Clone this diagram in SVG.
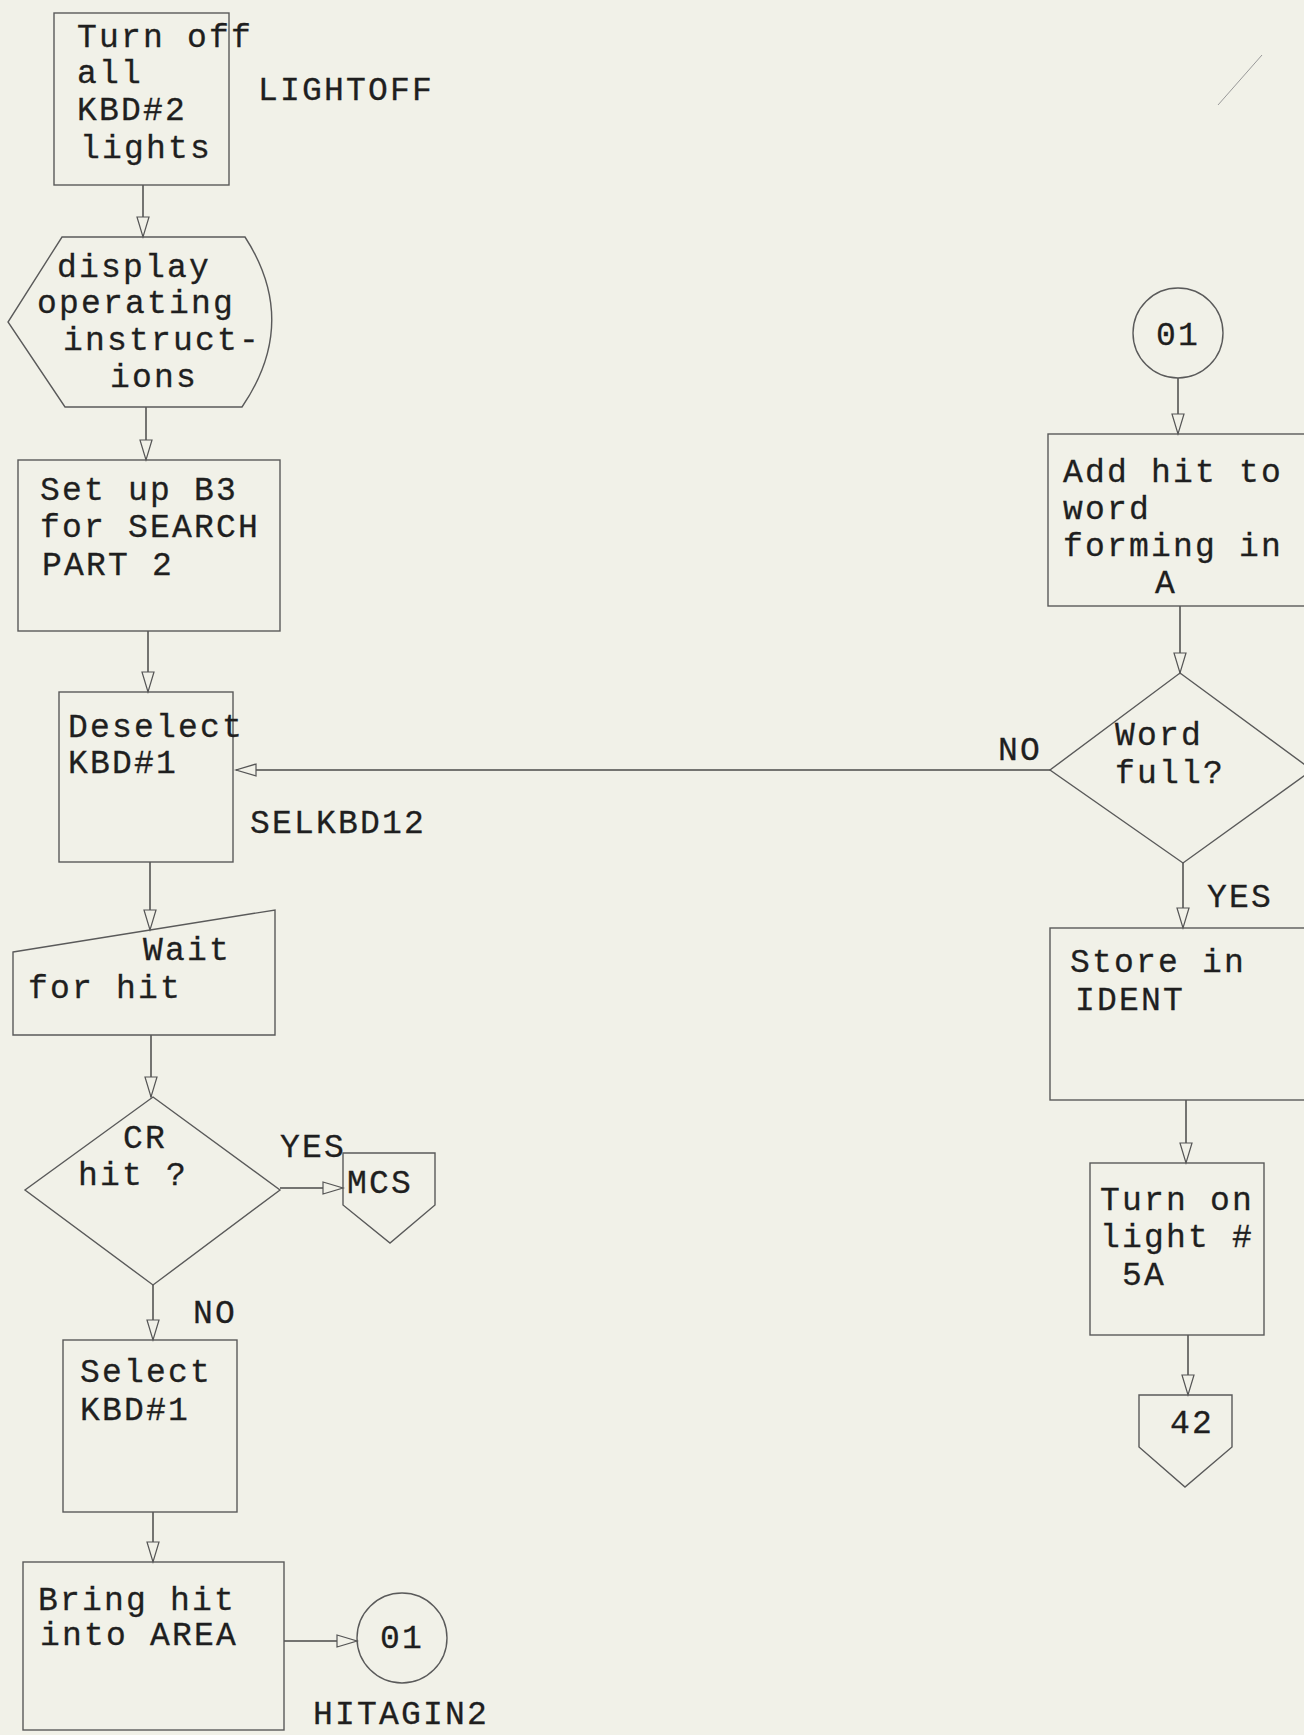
<svg xmlns="http://www.w3.org/2000/svg" width="1304" height="1735" viewBox="0 0 1304 1735">
<defs>
<style>
.t{font-family:"Liberation Mono","DejaVu Sans Mono",monospace;font-size:33px;letter-spacing:2.2px;fill:#1f1f1f;stroke:#1f1f1f;stroke-width:0.3}
.s{fill:none;stroke:#5a5a5a;stroke-width:1.4}
.c{fill:none;stroke:#4a4a4a;stroke-width:1.5}
</style>
<marker id="arr" markerUnits="userSpaceOnUse" markerWidth="24" markerHeight="16" refX="21" refY="7" orient="auto">
<path d="M1,1 L21,7 L1,13 Z" fill="#f1f1e8" stroke="#555" stroke-width="1.2"/>
</marker>
</defs>
<rect x="0" y="0" width="1304" height="1735" fill="#f1f1e8"/>

<g id="connectors">
<path class="c" d="M143,185 V237" marker-end="url(#arr)"/>
<path class="c" d="M146,407 V460" marker-end="url(#arr)"/>
<path class="c" d="M148,631 V692" marker-end="url(#arr)"/>
<path class="c" d="M150,862 V930" marker-end="url(#arr)"/>
<path class="c" d="M151,1035 V1097" marker-end="url(#arr)"/>
<path class="c" d="M280,1188 H343" marker-end="url(#arr)"/>
<path class="c" d="M153,1285 V1340" marker-end="url(#arr)"/>
<path class="c" d="M153,1512 V1562" marker-end="url(#arr)"/>
<path class="c" d="M284,1641 H357" marker-end="url(#arr)"/>
<path class="c" d="M1178,378 V434" marker-end="url(#arr)"/>
<path class="c" d="M1180,606 V673" marker-end="url(#arr)"/>
<path class="c" d="M1050,770 H236" marker-end="url(#arr)"/>
<path class="c" d="M1183,863 V928" marker-end="url(#arr)"/>
<path class="c" d="M1186,1100 V1163" marker-end="url(#arr)"/>
<path class="c" d="M1188,1335 V1395" marker-end="url(#arr)"/>
<text class="t" x="280" y="1157">YES</text>
<text class="t" x="193" y="1323">NO</text>
<text class="t" x="998" y="760">NO</text>
<text class="t" x="1207" y="907">YES</text>
</g>

<g id="lightoff">
<rect class="s" x="54" y="13" width="175" height="172"/>
<text class="t" x="77" y="47">Turn off</text>
<text class="t" x="77" y="83">all</text>
<text class="t" x="77" y="120">KBD#2</text>
<text class="t" x="80" y="158">lights</text>
<text class="t" x="258" y="100">LIGHTOFF</text>
</g>

<g id="display">
<path class="s" d="M62,237 H245 Q300,322 242,407 H65 L8,322 Z"/>
<text class="t" x="57" y="277">display</text>
<text class="t" x="37" y="313">operating</text>
<text class="t" x="63" y="350">instruct-</text>
<text class="t" x="110" y="387">ions</text>
</g>

<g id="setup">
<rect class="s" x="18" y="460" width="262" height="171"/>
<text class="t" x="40" y="500">Set up B3</text>
<text class="t" x="40" y="537">for SEARCH</text>
<text class="t" x="42" y="575">PART 2</text>
</g>

<g id="deselect">
<rect class="s" x="59" y="692" width="174" height="170"/>
<text class="t" x="68" y="737">Deselect</text>
<text class="t" x="68" y="773">KBD#1</text>
<text class="t" x="250" y="833">SELKBD12</text>
</g>

<g id="wait">
<path class="s" d="M13,952 L275,910 V1035 H13 Z"/>
<text class="t" x="143" y="960">Wait</text>
<text class="t" x="28" y="998">for hit</text>
</g>

<g id="crhit">
<path class="s" d="M153,1097 L280,1190 L153,1285 L25,1190 Z"/>
<text class="t" x="123" y="1148">CR</text>
<text class="t" x="78" y="1185">hit ?</text>
</g>

<g id="mcs">
<path class="s" d="M343,1153 H435 V1205 L390,1243 L343,1205 Z"/>
<text class="t" x="347" y="1193">MCS</text>
</g>

<g id="select">
<rect class="s" x="63" y="1340" width="174" height="172"/>
<text class="t" x="80" y="1382">Select</text>
<text class="t" x="80" y="1420">KBD#1</text>
</g>

<g id="bring">
<rect class="s" x="23" y="1562" width="261" height="168"/>
<text class="t" x="38" y="1610">Bring hit</text>
<text class="t" x="40" y="1645">into AREA</text>
<text class="t" x="313" y="1724">HITAGIN2</text>
</g>

<g id="conn01a">
<circle class="s" cx="402" cy="1638" r="45"/>
<text class="t" x="402" y="1648" text-anchor="middle">01</text>
</g>

<g id="conn01b">
<circle class="s" cx="1178" cy="333" r="45"/>
<text class="t" x="1178" y="345" text-anchor="middle">01</text>
</g>

<g id="addhit">
<rect class="s" x="1048" y="434" width="270" height="172"/>
<text class="t" x="1063" y="482">Add hit to</text>
<text class="t" x="1063" y="519">word</text>
<text class="t" x="1063" y="556">forming in</text>
<text class="t" x="1155" y="593">A</text>
</g>

<g id="wordfull">
<path class="s" d="M1180,673 L1312,770 L1183,863 L1050,770 Z"/>
<text class="t" x="1115" y="745">Word</text>
<text class="t" x="1115" y="783">full?</text>
</g>

<g id="store">
<rect class="s" x="1050" y="928" width="268" height="172"/>
<text class="t" x="1070" y="972">Store in</text>
<text class="t" x="1075" y="1010">IDENT</text>
</g>

<g id="turnon">
<rect class="s" x="1090" y="1163" width="174" height="172"/>
<text class="t" x="1100" y="1210">Turn on</text>
<text class="t" x="1100" y="1247">light #</text>
<text class="t" x="1122" y="1285">5A</text>
</g>

<g id="offpage42">
<path class="s" d="M1139,1395 H1232 V1447 L1185,1487 L1139,1447 Z"/>
<text class="t" x="1170" y="1433">42</text>
</g>

<path d="M1262,55 L1218,105" stroke="#999" stroke-width="1" fill="none"/>
</svg>
